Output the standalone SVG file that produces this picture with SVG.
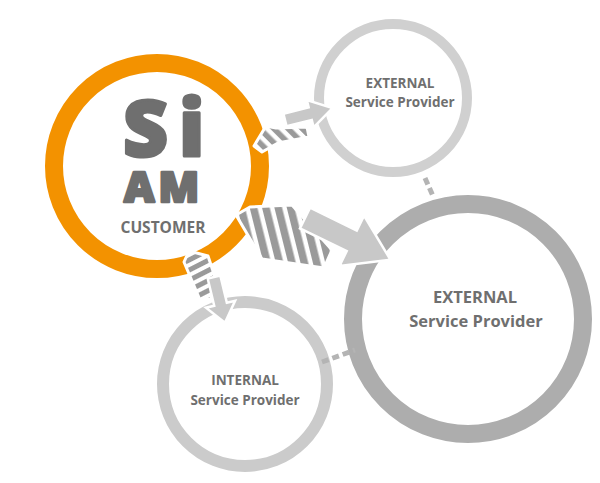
<svg xmlns="http://www.w3.org/2000/svg" width="600" height="483" viewBox="0 0 600 483">
  <style>
    .ring { fill: #fff; }
    .lbl { font-family: "Open Sans", "Liberation Sans", sans-serif; font-weight: 700; fill: #6f6f6f; text-anchor: middle; }
    .logo { font-family: "Open Sans", "Liberation Sans", sans-serif; font-weight: 800; fill: #6f6f6f; stroke: #6f6f6f; stroke-linejoin: round; }
    .solid { fill: #c8c8c8; stroke: #fff; stroke-width: 2.5; stroke-linejoin: miter; }
    .hatch { stroke: #fff; stroke-width: 3; stroke-linejoin: round; }
    .dash { stroke: #b4b4b4; stroke-width: 5; stroke-dasharray: 7 4; fill: none; }
  </style>
  <defs>
    <pattern id="stripesA" width="10" height="10" patternUnits="userSpaceOnUse" patternTransform="rotate(-45)">
      <rect width="10" height="10" fill="#fff"/>
      <rect width="5.5" height="10" fill="#9a9a9a"/>
    </pattern>
    <pattern id="stripesB" width="12" height="12" patternUnits="userSpaceOnUse" patternTransform="rotate(-14)">
      <rect width="12" height="12" fill="#fff"/>
      <rect width="7.5" height="12" fill="#9a9a9a"/>
    </pattern>
    <pattern id="stripesC" width="9" height="9" patternUnits="userSpaceOnUse" patternTransform="rotate(63)">
      <rect width="9" height="9" fill="#fff"/>
      <rect width="5" height="9" fill="#9a9a9a"/>
    </pattern>
  </defs>

  <!-- rings -->
  <g id="ext-top">
    <circle class="ring" cx="393" cy="98" r="74" stroke="#d0d0d0" stroke-width="10"/>
    <text class="lbl" x="400" y="88" font-size="13.5">EXTERNAL</text>
    <text class="lbl" x="400" y="107" font-size="13.5">Service Provider</text>
  </g>
  <g id="ext-big">
    <circle class="ring" cx="468" cy="319" r="115" stroke="#adadad" stroke-width="18"/>
    <text class="lbl" x="475" y="303" font-size="16.5">EXTERNAL</text>
    <text class="lbl" x="476" y="327" font-size="16.5">Service Provider</text>
  </g>
  <g id="internal">
    <circle class="ring" cx="245" cy="384" r="82" stroke="#cbcbcb" stroke-width="12"/>
    <text class="lbl" x="245" y="385" font-size="13.5">INTERNAL</text>
    <text class="lbl" x="245" y="405" font-size="13.5">Service Provider</text>
  </g>
  <g id="customer">
    <circle class="ring" cx="157" cy="166" r="103" stroke="#f39200" stroke-width="18"/>
    <text class="logo" x="123" y="156" font-size="78" stroke-width="3" letter-spacing="11">Si</text>
    <text class="logo" x="124" y="202" font-size="42" stroke-width="2.5" letter-spacing="4">AM</text>
    <text class="lbl" x="163" y="233" font-size="15.5">CUSTOMER</text>
  </g>

  <!-- connectors -->
  <g id="connectors">
    <line class="dash" x1="425" y1="178" x2="433" y2="196"/>
    <line class="dash" x1="322" y1="362" x2="355" y2="350"/>

    <!-- customer to top external provider -->
    <polygon class="hatch" fill="url(#stripesA)" points="254,146 266,126 276,128 307,127 309,137 278,143 262,152"/>
    <path class="solid" transform="translate(285,120) rotate(-14)" d="M0,-6.5 L26,-6.5 L26,-14 L49,0 L26,14 L26,6.5 L0,6.5 Z"/>

    <!-- customer to big external provider -->
    <polygon class="hatch" fill="url(#stripesB)" points="236,215 250,207 292,205 332,250 324,268 262,259"/>
    <path class="solid" transform="translate(305,218) rotate(26)" d="M0,-11.5 L52,-11.5 L52,-28 L95,0 L52,28 L52,11.5 L0,11.5 Z"/>

    <!-- customer to internal provider -->
    <polygon class="hatch" fill="url(#stripesC)" points="189,251 208,256 215,277 211,299 200,300 184,262"/>
    <path class="solid" transform="translate(214,277) rotate(76.5)" d="M0,-6.5 L28,-6.5 L28,-15 L47,0 L28,15 L28,6.5 L0,6.5 Z"/>
  </g>
</svg>
